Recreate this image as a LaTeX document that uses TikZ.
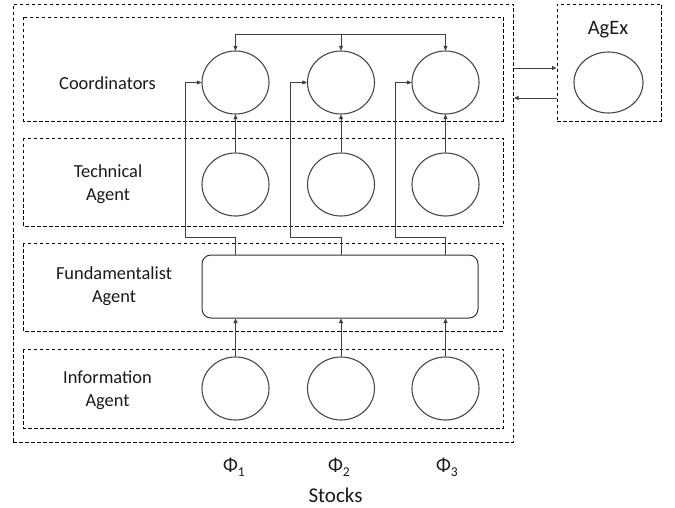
\documentclass[tikz,border=0pt]{standalone}
\usepackage{fontspec}
\setmainfont{Carlito}
\usetikzlibrary{arrows.meta,shapes.geometric}
\begin{document}
\begin{tikzpicture}[x=1pt,y=-1pt,
  dbox/.style={draw=black, dash pattern=on 3.5pt off 2.5pt, line width=0.9pt, inner sep=0pt},
  agent/.style={draw=black!72, line width=1.1pt, ellipse, inner sep=0pt, minimum width=67pt, minimum height=63pt},
  lbl/.style={align=center, text=black!90, font=\fontsize{18.4}{23}\selectfont},
  conn/.style={draw=black!75, line width=0.8pt},
  arr/.style={conn, -{Triangle[length=4.5pt,width=4pt]}},
  phi/.style={text=black!90, font=\fontsize{19.5}{22}\selectfont}
]
\useasboundingbox (0,0) rectangle (675,508);
% frames
\node[dbox, minimum width=500pt, minimum height=438pt] (outer) at (263,223) {};
\node[dbox, minimum width=104pt, minimum height=117pt] (agbox) at (609,62.5) {};
\draw[dbox] (23,17) rectangle (503,121);
\draw[dbox] (23,138) rectangle (503,226);
\draw[dbox] (23,243) rectangle (503,331);
\draw[dbox] (23,349) rectangle (503,428);
% labels
\node[lbl] (lc) at (107.5,83) {Coordinators};
\node[lbl] (lt) at (108,184.5) {Technical\\Agent};
\node[lbl] (lf) at (114,286.5) {Fundamentalist\\Agent};
\node[lbl] (li) at (107.5,390) {Information\\Agent};
\node[lbl, font=\fontsize{20.5}{22}\selectfont] (lag) at (608,30) {AgEx};
% agents
\foreach \i/\x in {1/235.5,2/341,3/445.5}{
  \node[agent] (c\i) at (\x,82.5) {};
  \node[agent] (t\i) at (\x,184.5) {};
  \node[agent] (i\i) at (\x,388.5) {};
}
\node[agent, minimum width=69pt, minimum height=61pt] (ag) at (608.5,82.5) {};
\node[draw=black!80, line width=1pt, rounded corners=9pt, minimum width=276pt, minimum height=63pt] (f) at (340,286.5) {};
% top distribution
\coordinate (tl) at (235.5,34);
\coordinate (tm) at (341,34);
\coordinate (tr) at (445.5,34);
\draw[conn] (tl) -- (tr);
\draw[arr] (tl) -- (c1.north);
\draw[arr] (tm) -- (c2.north);
\draw[arr] (tr) -- (c3.north);
% technical -> coordinators, information -> fundamentalist
\foreach \i in {1,2,3}{
  \draw[arr] (t\i.north) -- (c\i.south);
  \draw[arr] (i\i.north) -- (i\i.north |- f.south);
}
% fundamentalist -> coordinators
\coordinate (e1) at (185,237);
\coordinate (e2) at (290,237);
\coordinate (e3) at (395,237);
\foreach \i in {1,2,3}{
  \draw[arr] (f.north -| c\i) |- (e\i) |- (c\i.west);
}
% AgEx exchange
\coordinate (a1) at (514,68);
\coordinate (a2) at (514,98);
\draw[arr] (a1) -- (a1 -| agbox.west);
\draw[arr] (a2 -| agbox.west) -- (a2);
% stocks
\node[phi] (p1) at (234,467) {Φ\raisebox{-5pt}{\fontsize{13.5}{13}\selectfont 1}};
\node[phi] (p2) at (339,467) {Φ\raisebox{-5pt}{\fontsize{13.5}{13}\selectfont 2}};
\node[phi] (p3) at (447,467) {Φ\raisebox{-5pt}{\fontsize{13.5}{13}\selectfont 3}};
\node[phi, font=\fontsize{21}{22}\selectfont] (st) at (335.5,495) {Stocks};
\end{tikzpicture}
\end{document}
